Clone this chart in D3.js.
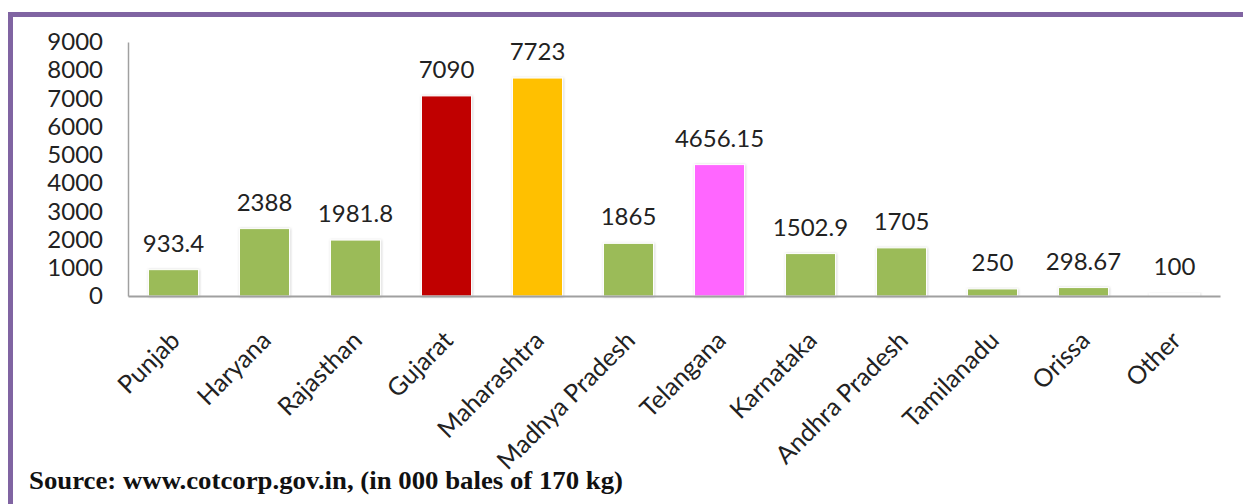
<!DOCTYPE html>
<html>
<head>
<meta charset="utf-8">
<script src="https://cdn.jsdelivr.net/npm/d3@7"></script>
<style>
  body { margin: 0; background: #fff; }
  svg { display: block; }
</style>
</head>
<body>
<div id="container"></div>
<script>
// chart data
const states = ["Punjab", "Haryana", "Rajasthan", "Gujarat", "Maharashtra", "Madhya Pradesh",
                "Telangana", "Karnataka", "Andhra Pradesh", "Tamilanadu", "Orissa", "Other"];
const production = [933.4, 2388, 1981.8, 7090, 7723, 1865, 4656.15, 1502.9, 1705, 250, 298.67, 100];
const valueLabels = ["933.4", "2388", "1981.8", "7090", "7723", "1865", "4656.15", "1502.9", "1705", "250", "298.67", "100"];
const barColors = ["#9bbb59", "#9bbb59", "#9bbb59", "#c00000", "#ffc000", "#9bbb59",
                   "#ff66ff", "#9bbb59", "#9bbb59", "#9bbb59", "#9bbb59", "#ffffff"];
const yTicks = [0, 1000, 2000, 3000, 4000, 5000, 6000, 7000, 8000, 9000];
const sourceNote = "Source: www.cotcorp.gov.in, (in 000 bales of 170 kg)";

// canvas size
const w = 1243;
const h = 504;
const font = "Lato, 'Open Sans', sans-serif";

// scales
const xScale = d3.scaleBand()
                 .domain(states)
                 .range([128, 1220])
                 .paddingInner(0.45)
                 .paddingOuter(0.225);

const yScale = d3.scaleLinear()
                 .domain([0, 9000])
                 .range([296, 42]);

const svg = d3.select("#container")
              .append("svg")
              .attr("width", w)
              .attr("height", h);

// soft shadow round the bars
const defs = svg.append("defs");
const shadow = defs.append("filter")
                   .attr("id", "shadow")
                   .attr("x", "-20%").attr("y", "-20%")
                   .attr("width", "140%").attr("height", "140%");
shadow.append("feDropShadow")
      .attr("dx", 0.5).attr("dy", 0.5)
      .attr("stdDeviation", 1.2)
      .attr("flood-color", "#000")
      .attr("flood-opacity", 0.25);

// purple frame (top and left edges visible)
svg.append("rect")
   .attr("x", 10.5)
   .attr("y", 14.5)
   .attr("width", 1260)
   .attr("height", 520)
   .attr("fill", "none")
   .attr("stroke", "#8064a2")
   .attr("stroke-width", 5);

// bars
svg.selectAll("rect.bar")
   .data(production)
   .enter()
   .append("rect")
   .attr("class", "bar")
   .attr("x", (d, i) => xScale(states[i]))
   .attr("y", (d) => yScale(d))
   .attr("width", xScale.bandwidth())
   .attr("height", (d) => yScale(0) - yScale(d))
   .attr("fill", (d, i) => barColors[i])
   .attr("stroke", "#fff")
   .attr("stroke-width", 1)
   .attr("filter", "url(#shadow)");

// value labels
svg.selectAll("text.value")
   .data(production)
   .enter()
   .append("text")
   .attr("class", "value")
   .attr("x", (d, i) => xScale(states[i]) + xScale.bandwidth() / 2)
   .attr("y", (d) => yScale(d) - 18)
   .attr("text-anchor", "middle")
   .style("font-family", font)
   .style("font-size", "24px")
   .style("fill", "#222")
   .text((d, i) => valueLabels[i]);

// axes
const yAxis = d3.axisLeft(yScale).tickValues(yTicks).tickSize(0).tickPadding(25).tickFormat(d3.format("d"));
const xAxis = d3.axisBottom(xScale).tickSize(0).tickFormat("");

const gy = svg.append("g")
              .attr("transform", "translate(128, 0)")
              .call(yAxis);
gy.select(".domain").attr("stroke", "#a0a0a0").attr("stroke-width", 1.5);
gy.selectAll("text")
  .style("font-family", font)
  .style("font-size", "24px")
  .style("fill", "#222");

const gx = svg.append("g")
              .attr("transform", "translate(0, 296)")
              .call(xAxis);
gx.select(".domain").attr("stroke", "#a0a0a0").attr("stroke-width", 2);

// rotated category labels
svg.selectAll("text.cat")
   .data(states)
   .enter()
   .append("text")
   .attr("class", "cat")
   .attr("transform", (d) => "translate(" + (xScale(d) + xScale.bandwidth() / 2 + 8) + ", 342)rotate(-45)")
   .attr("text-anchor", "end")
   .style("font-family", font)
   .style("font-size", "25px")
   .style("fill", "#222")
   .text((d) => d);

// source note
svg.append("text")
   .attr("x", 29)
   .attr("y", 489)
   .attr("textLength", 594)
   .attr("lengthAdjust", "spacingAndGlyphs")
   .style("font-family", "'Liberation Serif', 'Times New Roman', serif")
   .style("font-weight", "bold")
   .style("font-size", "25px")
   .style("fill", "#111")
   .text(sourceNote);
</script>
</body>
</html>
